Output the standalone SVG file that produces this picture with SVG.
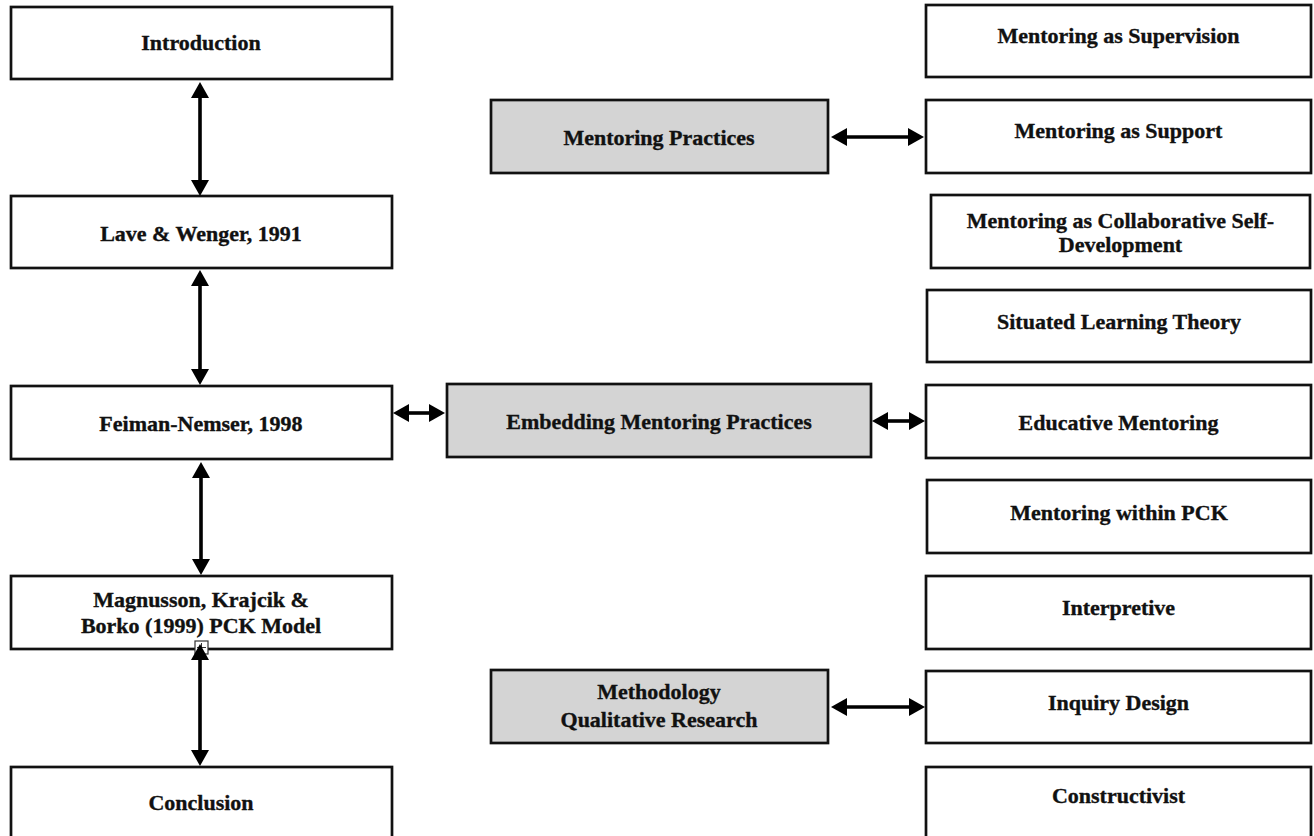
<svg xmlns="http://www.w3.org/2000/svg" width="1314" height="836" viewBox="0 0 1314 836">
<style>
.box{fill:#ffffff;stroke:#111111;stroke-width:2.7}
.grey{fill:#d4d4d4;stroke:#111111;stroke-width:2.7}
text{font-family:"Liberation Serif","Times New Roman",serif;font-weight:bold;font-size:22px;fill:#111111;stroke:#111111;stroke-width:0.35;text-anchor:middle}
.conn{stroke:#000000;stroke-width:3.6;fill:none;marker-start:url(#ah);marker-end:url(#ah)}
</style>
<defs>
<marker id="ah" markerUnits="userSpaceOnUse" viewBox="0 0 16 18" refX="5" refY="9" markerWidth="16" markerHeight="18" orient="auto-start-reverse">
<path d="M0,0 L16,9 L0,18 z" fill="#000000"/>
</marker>
</defs>
<rect width="1314" height="836" fill="#ffffff"/>

<g id="introduction"><rect class="box" x="11" y="7" width="381" height="72"/><text x="201" y="50">Introduction</text></g>
<g id="lave-wenger"><rect class="box" x="11" y="196" width="381" height="72"/><text x="201" y="241">Lave &amp; Wenger, 1991</text></g>
<g id="feiman-nemser"><rect class="box" x="11" y="386" width="381" height="73"/><text x="201" y="431">Feiman-Nemser, 1998</text></g>
<g id="magnusson"><rect class="box" x="11" y="576" width="381" height="73"/><text x="201" y="607">Magnusson, Krajcik &amp;</text><text x="201" y="633">Borko (1999) PCK Model</text></g>
<g id="conclusion"><rect class="box" x="11" y="767" width="381" height="75"/><text x="201" y="810">Conclusion</text></g>

<g id="mentoring-practices"><rect class="grey" x="491" y="100" width="337" height="73"/><text x="659" y="145">Mentoring Practices</text></g>
<g id="embedding"><rect class="grey" x="447" y="384" width="424" height="73"/><text x="659" y="429">Embedding Mentoring Practices</text></g>
<g id="methodology"><rect class="grey" x="491" y="670" width="337" height="73"/><text x="659" y="699">Methodology</text><text x="659" y="727">Qualitative Research</text></g>

<g id="supervision"><rect class="box" x="926" y="5" width="385" height="72"/><text x="1118.5" y="43">Mentoring as Supervision</text></g>
<g id="support"><rect class="box" x="926" y="100" width="385" height="73"/><text x="1118.5" y="138">Mentoring as Support</text></g>
<g id="collaborative"><rect class="box" x="931" y="195" width="379" height="73"/><text x="1120.5" y="228">Mentoring as Collaborative Self-</text><text x="1120.5" y="252">Development</text></g>
<g id="situated"><rect class="box" x="927" y="290" width="384" height="72"/><text x="1119" y="329">Situated Learning Theory</text></g>
<g id="educative"><rect class="box" x="926" y="385" width="385" height="73"/><text x="1118.5" y="430">Educative Mentoring</text></g>
<g id="within-pck"><rect class="box" x="927" y="480" width="384" height="73"/><text x="1119" y="520">Mentoring within PCK</text></g>
<g id="interpretive"><rect class="box" x="926" y="576" width="385" height="73"/><text x="1118.5" y="615">Interpretive</text></g>
<g id="inquiry"><rect class="box" x="926" y="671" width="385" height="72"/><text x="1118.5" y="710">Inquiry Design</text></g>
<g id="constructivist"><rect class="box" x="926" y="767" width="385" height="75"/><text x="1118.5" y="803">Constructivist</text></g>

<g id="handle"><rect x="195" y="641" width="13" height="13" fill="#ffffff" stroke="#333333" stroke-width="1.2"/><line x1="201.5" y1="643" x2="201.5" y2="652" stroke="#333333" stroke-width="1"/><line x1="197" y1="647.5" x2="206" y2="647.5" stroke="#333333" stroke-width="1"/></g>

<g id="connectors">
<line class="conn" x1="200" y1="93" x2="200" y2="185"/>
<line class="conn" x1="200" y1="281" x2="200" y2="374"/>
<line class="conn" x1="201" y1="473" x2="201" y2="564"/>
<line class="conn" x1="200" y1="655" x2="200" y2="755"/>
<line class="conn" x1="842" y1="137" x2="913" y2="137"/>
<line class="conn" x1="404" y1="413" x2="434" y2="413"/>
<line class="conn" x1="883" y1="421" x2="914" y2="421"/>
<line class="conn" x1="842" y1="707" x2="914" y2="707"/>
</g>
</svg>
